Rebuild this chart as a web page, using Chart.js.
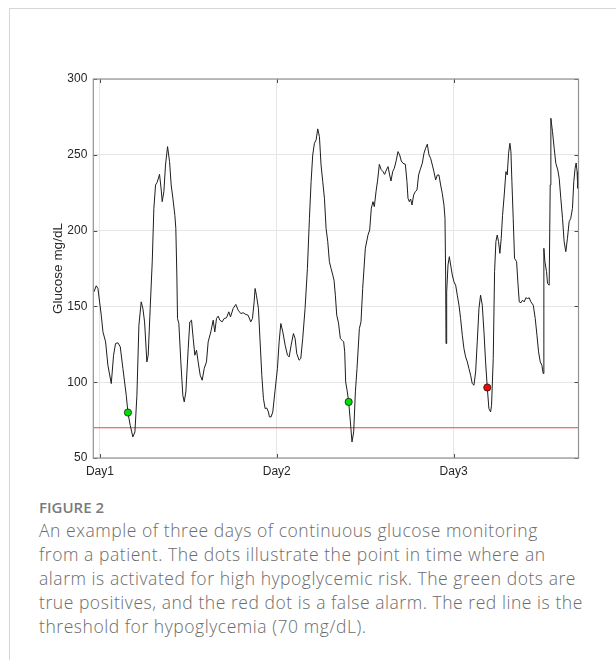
<!DOCTYPE html>
<html><head><meta charset="utf-8">
<script src="https://cdn.jsdelivr.net/npm/chart.js@4"></script>
<style>
html,body{margin:0;padding:0;background:#fff;}
body{width:616px;height:660px;position:relative;overflow:hidden;}
#frame{position:absolute;left:9px;top:8px;width:700px;height:700px;border:1px solid #d6d6d6;}
#c{position:absolute;left:0;top:0;}
#fig{position:absolute;left:39px;top:497px;font-family:'Open Sans';font-weight:600;font-size:15px;color:#7a7a7a;line-height:21px;white-space:nowrap;}
#cap{position:absolute;left:39px;top:519px;font-family:'Open Sans';font-weight:300;font-size:17.5px;letter-spacing:0.55px;color:#6b6b6b;line-height:23.9px;white-space:nowrap;}
</style></head>
<body>
<div id="frame"></div>
<canvas id="c" width="616" height="490"></canvas>
<div id="fig">FIGURE 2</div>
<div id="cap">An example of three days of continuous glucose monitoring<br>from a patient. The dots illustrate the point in time where an<br>alarm is activated for high hypoglycemic risk. The green dots are<br>true positives, and the red dot is a false alarm. The red line is the<br>threshold for hypoglycemia (70 mg/dL).</div>
<script>
// time in hours from the start of Day1
const hours = [-0.81,-0.5,-0.27,0.18,0.41,0.77,1.08,1.54,1.85,2.12,2.44,2.76,3.12,3.57,3.80,4.11,4.47,4.75,5.02,5.29,5.60,5.83,6.06,6.37,6.55,6.82,7.10,7.32,7.55,7.77,8.09,8.32,8.45,8.68,8.90,9.18,9.45,9.67,9.90,10.17,10.3,10.44,10.53,10.71,10.98,11.25,11.44,11.66,11.98,12.2,12.43,12.66,12.88,13.11,13.33,13.61,13.88,14.15,14.46,14.69,15.05,15.37,15.59,15.82,16.05,16.27,16.59,16.86,17.18,17.49,17.72,18.08,18.44,18.76,19.12,19.44,19.80,20.11,20.47,20.70,20.93,21.06,21.24,21.51,21.74,21.97,22.19,22.42,22.64,22.87,23.0,23.23,23.46,23.77,24.09,24.32,24.55,24.82,25.14,25.45,25.68,25.95,26.26,26.49,26.71,27.03,27.26,27.52,27.84,28.16,28.43,28.66,28.88,29.11,29.34,29.56,29.79,30.01,30.24,30.47,30.69,30.92,31.14,31.37,31.60,31.77,31.95,32.14,32.38,32.63,32.86,33.08,33.22,33.35,33.54,33.76,33.99,34.21,34.44,34.67,34.89,35.21,35.43,35.66,36.02,36.38,36.61,36.83,37.06,37.24,37.47,37.69,37.92,38.15,38.42,38.64,38.87,39.10,39.32,39.50,39.73,39.95,40.18,40.45,40.68,40.90,41.13,41.45,41.67,41.81,41.99,42.17,42.35,42.58,42.80,43.03,43.25,43.48,43.75,43.98,44.20,44.43,44.66,44.88,45.11,45.33,45.56,45.79,46.01,46.24,46.46,46.69,46.83,46.92,46.97,47.06,47.24,47.42,47.60,47.82,48.05,48.28,48.50,48.73,48.95,49.18,49.40,49.63,49.86,50.08,50.31,50.53,50.76,50.99,51.21,51.44,51.66,51.89,52.12,52.34,52.57,52.79,53.02,53.15,53.38,53.56,53.74,53.92,54.10,54.28,54.46,54.64,54.87,55.10,55.28,55.46,55.64,55.78,55.91,56.09,56.27,56.55,56.72,56.91,57.14,57.36,57.58,57.81,58.04,58.26,58.49,58.81,59.08,59.31,59.53,59.76,59.98,60.16,60.25,60.39,60.61,60.75,60.97,61.11,61.20,61.42,61.65,61.87,62.14,62.33,62.55,62.78,63.00,63.23,63.45,63.68,63.90,64.13,64.31,64.49,64.63,64.76,64.85];
const glucose = [159.6,163.6,161.8,144.2,133.2,126.6,111.2,99.1,117.8,125.5,126,123.3,109,91.4,80,71.6,63.9,67.2,91.4,137.6,153,148.6,139.8,113.4,117.8,148.6,179.5,214.7,230.1,231.9,237.1,226.8,219.1,225.7,243.3,255.4,245.5,230.1,221.3,210,201.5,170.7,142,138.7,113.4,91.4,87,93.6,122.2,139.8,140.9,128.8,117.8,121.1,113.4,104.6,101.3,109,113.4,126.6,133.2,140.9,133.2,142,143.6,140.9,139.8,142,142.5,146.4,143.1,148.6,151.3,147.5,145.3,145.8,144.7,144.2,139.8,142,153,161.8,157.4,148.6,126.6,104.6,89.2,82.6,83,80.4,77.1,77.1,80.4,94.7,109,126.6,138.7,133.2,124.4,117.8,116.7,124.4,132.1,128.8,118.9,114.5,115.6,128.8,148.6,175,208,232.3,249.9,257.6,259.8,267.1,262,243.3,232.3,221.3,201.5,192.7,179.5,175,170.7,167.3,157.4,144.2,139,128.8,127.7,126.6,120,100.2,94.7,87,73.8,60.6,67.2,93.6,109,135.4,139.8,161.8,188.3,197.1,200.4,214.7,219.1,215.8,225.7,233.3,243.7,240.4,238.9,237.1,240,242.2,236.7,232.7,238.9,241.1,245.5,252.1,249.9,245.9,244.4,243.7,232.3,221.3,219.1,220.8,216.9,223.5,225.7,226.8,236.7,240.4,244.4,251,254.3,257,249.9,247.7,243.3,238.9,233.4,236.7,236.7,230.1,224.6,216.9,208.1,170.7,125.5,159.6,177.3,182.8,177.3,170.7,166.2,164,157.4,150.8,142,131,122.2,116.7,113.4,109,104.6,99.1,98,106.8,126.6,148.6,157.4,150.8,133.2,113.4,96.5,82.6,80.4,84.8,115.6,172.9,192.7,197.1,192.7,185,194.9,210,223.5,238.9,236.7,251,257.6,252.1,232.3,208.1,181.7,179.5,166.2,153,152.4,154.1,153,155.7,155.2,155.7,153,150.8,142,131,120,113.4,111.2,105.7,188.3,179.5,172.9,165.1,164,230.1,274.1,265.3,254.3,244.4,240,234.5,221.3,208.1,192.7,186.1,194.9,205.9,208.1,214.7,232.3,241.1,244.6,238.9,227.9];
const trueAlarmHours = [3.80, 33.76];
const trueAlarmGlucose = [80, 87];
const falseAlarmHours = [52.57];
const falseAlarmGlucose = [96.5];
const hypoThreshold = 70;
const dayTickHours = [0, 24, 48];
const dayLabels = ['Day1', 'Day2', 'Day3'];
const yTickValues = [50, 100, 150, 200, 250, 300];
const xRange = [-0.9, 64.95];
const yRange = [50, 300];

const pts = (xs, ys) => xs.map((v, i) => ({x: v, y: ys[i]}));
const tickFont = {family: "Arial, 'Liberation Sans', sans-serif", size: 12};

const framePlugin = {
  id: 'matlabFrame',
  afterDatasetsDraw(chart) {
    const {ctx, chartArea: a, scales: {x, y}} = chart;
    ctx.save();
    ctx.lineWidth = 1;
    ctx.strokeStyle = '#4d4d4d';
    ctx.beginPath();
    x.ticks.forEach(t => {
      const px = Math.round(x.getPixelForValue(t.value)) + 0.5;
      ctx.moveTo(px, a.bottom); ctx.lineTo(px, a.bottom - 4);
      ctx.moveTo(px, a.top); ctx.lineTo(px, a.top + 4);
    });
    y.ticks.forEach(t => {
      const py = Math.round(y.getPixelForValue(t.value)) + 0.5;
      ctx.moveTo(a.left, py); ctx.lineTo(a.left + 4, py);
      ctx.moveTo(a.right, py); ctx.lineTo(a.right - 4, py);
    });
    ctx.stroke();
    ctx.strokeStyle = '#939393';
    ctx.lineWidth = 1.2;
    ctx.strokeRect(a.left, a.top, a.right - a.left, a.bottom - a.top);
    ctx.restore();
  }
};

new Chart(document.getElementById('c'), {
  type: 'scatter',
  data: {
    datasets: [
      {
        data: pts(trueAlarmHours, trueAlarmGlucose),
        pointRadius: 3.6, pointBackgroundColor: '#00e000', pointBorderColor: '#1a1a1a', pointBorderWidth: 0.8,
        showLine: false, order: 0
      },
      {
        data: pts(falseAlarmHours, falseAlarmGlucose),
        pointRadius: 3.6, pointBackgroundColor: '#ff0000', pointBorderColor: '#1a1a1a', pointBorderWidth: 0.8,
        showLine: false, order: 0
      },
      {
        data: pts(hours, glucose),
        showLine: true, pointRadius: 0, borderColor: '#1e1e1e', borderWidth: 1, tension: 0, order: 1
      },
      {
        data: pts(xRange, [hypoThreshold, hypoThreshold]),
        showLine: true, pointRadius: 0, borderColor: '#e04848', borderWidth: 1.1, order: 2
      }
    ]
  },
  options: {
    responsive: false, animation: false, devicePixelRatio: 1,
    layout: {padding: {top: 79, right: 37.5, left: 0, bottom: 0}},
    plugins: {legend: {display: false}, tooltip: {enabled: false}},
    scales: {
      x: {
        type: 'linear', min: xRange[0], max: xRange[1],
        afterBuildTicks: s => { s.ticks = dayTickHours.map(v => ({value: v})); },
        afterFit: s => { s.height = 32; },
        ticks: {
          callback: v => dayLabels[dayTickHours.indexOf(v)],
          font: tickFont, color: '#262626', padding: 6.5, maxRotation: 0, autoSkip: false
        },
        grid: {color: '#e6e6e6', drawTicks: false},
        border: {display: false}
      },
      y: {
        min: yRange[0], max: yRange[1],
        afterBuildTicks: s => { s.ticks = yTickValues.map(v => ({value: v})); },
        afterFit: s => { s.width = 93.3; },
        ticks: {font: tickFont, color: '#262626', padding: 6},
        grid: {color: '#e6e6e6', drawTicks: false},
        border: {display: false},
        title: {display: true, text: 'Glucose mg/dL', font: {family: "Arial, 'Liberation Sans', sans-serif", size: 13.5}, color: '#262626', padding: {top: 50, bottom: 0}}
      }
    }
  },
  plugins: [framePlugin]
});
</script>
</body></html>
